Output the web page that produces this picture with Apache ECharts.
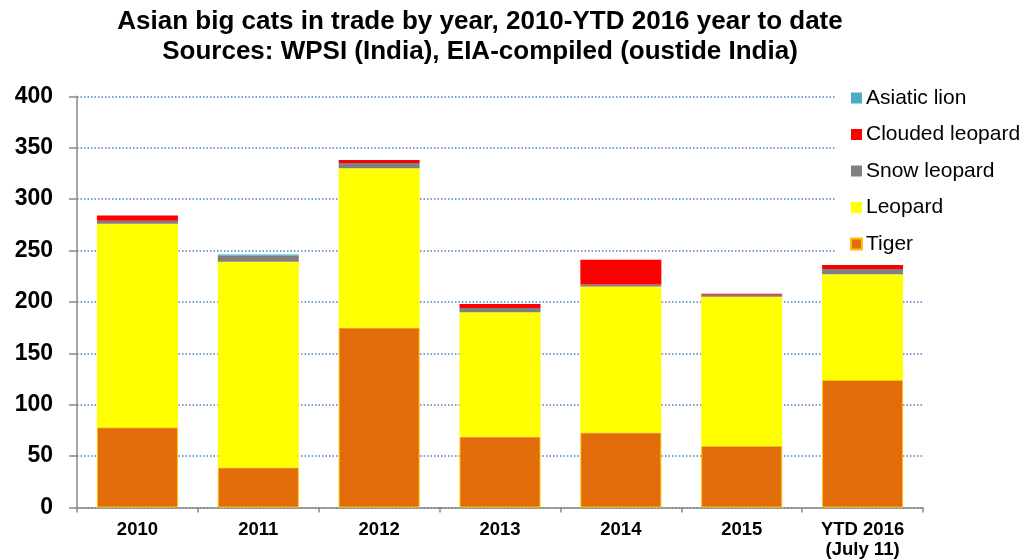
<!DOCTYPE html>
<html>
<head>
<meta charset="utf-8">
<script src="https://cdn.jsdelivr.net/npm/echarts@6/dist/echarts.min.js"></script>
<style>html,body{margin:0;padding:0;background:#fff}#c{width:1026px;height:560px}</style>
</head>
<body>
<div id="c"></div>
<script>
var categories = ['2010', '2011', '2012', '2013', '2014', '2015', 'YTD 2016\n(July 11)'];
var tiger = [78, 39, 175, 69, 73, 60, 124];
var leopard = [198, 200, 155, 121, 142, 145, 103];
var snowLeopard = [3, 6, 5, 4, 2, 2, 5];
var cloudedLeopard = [5, 0, 3, 4, 24, 1, 4];
var asiaticLion = [0, 1, 0, 0, 0, 0, 0];
var legendOrder = ['Asiatic lion', 'Clouded leopard', 'Snow leopard', 'Leopard', 'Tiger'];

var FONT = "'Liberation Sans', Arial, sans-serif";
var chart = echarts.init(document.getElementById('c'), null, {renderer: 'canvas'});

function bar(name, data, color, extra) {
  var s = {
    name: name, type: 'bar', stack: 'total', data: data,
    barCategoryGap: '33%',
    itemStyle: {color: color},
    emphasis: {disabled: true}
  };
  if (extra) s.itemStyle = Object.assign(s.itemStyle, extra);
  return s;
}

chart.setOption({
  animation: false,
  backgroundColor: '#fff',
  title: {
    text: 'Asian big cats in trade by year, 2010-YTD 2016 year to date\nSources: WPSI (India), EIA-compiled (oustide India)',
    left: 480, top: 7, padding: 0,
    textAlign: 'center',
    textStyle: {fontFamily: FONT, fontSize: 26, fontWeight: 'bold', color: '#000', lineHeight: 30}
  },
  legend: {
    data: legendOrder,
    orient: 'vertical',
    left: 836, top: 82.5,
    padding: [5, 20, 9, 14],
    backgroundColor: '#fff',
    icon: 'rect',
    itemWidth: 11, itemHeight: 11, itemGap: 15.5,
    textStyle: {fontFamily: FONT, fontSize: 21, color: '#000', lineHeight: 21, padding: [0, 0, 0, -1]},
    selectedMode: false,
    z: 10
  },
  grid: {left: 77, right: 103, top: 96.3, bottom: 51.7, containLabel: false},
  xAxis: {
    type: 'category',
    data: categories,
    axisLine: {lineStyle: {color: '#898989', width: 1.5}},
    axisTick: {show: true, length: 5, interval: 0, alignWithLabel: false, lineStyle: {color: '#898989', width: 1.5}},
    axisLabel: {fontFamily: FONT, fontSize: 18.5, fontWeight: 'bold', color: '#000', margin: 12.5, interval: 0, lineHeight: 20}
  },
  yAxis: {
    type: 'value',
    min: 0, max: 400, interval: 50,
    axisLine: {show: true, lineStyle: {color: '#898989', width: 1.5}},
    axisTick: {show: true, length: 8, lineStyle: {color: '#898989', width: 1.5}},
    axisLabel: {fontFamily: FONT, fontSize: 23, fontWeight: 'bold', color: '#000', margin: 24},
    splitLine: {show: true, lineStyle: {color: '#4F81BD', width: 1.5, type: [1.5, 2]}}
  },
  series: [
    bar('Tiger', tiger, '#E36C0A', {borderColor: '#FFC000', borderWidth: 1}),
    bar('Leopard', leopard, '#FFFF00'),
    bar('Snow leopard', snowLeopard, '#808080'),
    bar('Clouded leopard', cloudedLeopard, '#FF0000'),
    bar('Asiatic lion', asiaticLion, '#4BACC6')
  ]
});
</script>
</body>
</html>
